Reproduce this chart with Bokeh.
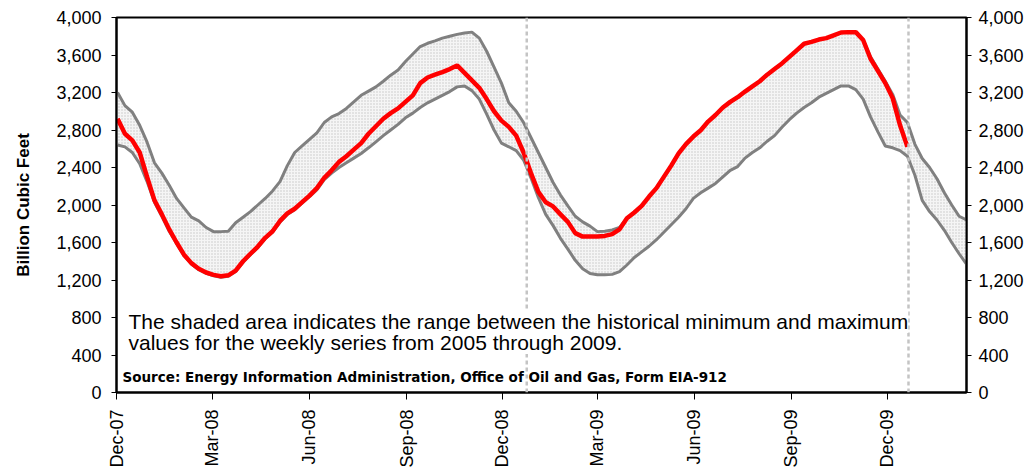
import pandas as pd
from bokeh.plotting import figure
from bokeh.models import (LinearAxis, FixedTicker, DatetimeTickFormatter,
                          NumeralTickFormatter, Span, Label, Range1d)
from bokeh.embed import file_html
from bokeh.resources import INLINE

# ---------------- data ----------------
first_week = "2007-12-02"          # weekly series start
x_start, x_end = "2007-12-01", "2010-02-14"

hist_max = [3200, 3060, 2990, 2850, 2670, 2450, 2340, 2210, 2070, 1970,
            1870, 1830, 1760, 1716, 1716, 1720, 1810, 1870, 1929, 2000,
            2070, 2150, 2250, 2420, 2560, 2630, 2700, 2770, 2880, 2940,
            2975, 3030, 3100, 3170, 3215, 3260, 3320, 3385, 3440, 3530,
            3610, 3690, 3725, 3750, 3780, 3800, 3820, 3835, 3844, 3780,
            3640, 3470, 3300, 3090, 3000, 2880, 2720, 2560, 2400, 2240,
            2106, 1990, 1880, 1820, 1775, 1716, 1720, 1734, 1760, 1858,
            1920, 1990, 2090, 2180, 2300, 2420, 2550, 2650, 2730, 2798,
            2890, 2960, 3040, 3100, 3150, 3210, 3265, 3320, 3390, 3450,
            3510, 3580, 3650, 3720, 3740, 3765, 3780, 3810, 3840, 3844,
            3844, 3760, 3580, 3450, 3320, 3180, 2960, 2880, 2650, 2496,
            2400, 2280, 2130, 2000, 1880, 1840]

hist_min = [2640, 2620, 2560, 2440, 2250, 2030, 1880, 1720, 1590, 1460,
            1370, 1310, 1270, 1245, 1230, 1240, 1290, 1390, 1470, 1545,
            1640, 1710, 1815, 1900, 1950, 2020, 2090, 2160, 2270, 2340,
            2400, 2450, 2500, 2550, 2610, 2674, 2740, 2800, 2860, 2930,
            2980, 3040, 3090, 3130, 3170, 3210, 3260, 3270, 3220, 3130,
            2970, 2800, 2660, 2621, 2580, 2480, 2290, 2080, 1900, 1780,
            1645, 1530, 1410, 1320, 1270, 1255, 1255, 1260, 1290, 1360,
            1440, 1500, 1560, 1630, 1710, 1790, 1870, 1960, 2071, 2130,
            2180, 2230, 2300, 2370, 2410, 2500, 2560, 2610, 2680, 2740,
            2830, 2910, 2980, 3040, 3090, 3150, 3190, 3230, 3270, 3270,
            3230, 3130, 2940, 2780, 2630, 2610, 2580, 2520, 2320, 2050,
            1930, 1840, 1730, 1600, 1480, 1370]

storage = [2920, 2760, 2690, 2560, 2300, 2050, 1900, 1740, 1600, 1470,
           1380, 1320, 1280, 1255, 1240, 1250, 1300, 1400, 1480, 1557,
           1650, 1720, 1830, 1910, 1960, 2030, 2100, 2180, 2290, 2370,
           2460, 2520, 2590, 2660, 2760, 2840, 2920, 2980, 3030, 3100,
           3170, 3300, 3360, 3390, 3418, 3450, 3489, 3410, 3330, 3250,
           3130, 3000, 2900, 2833, 2740, 2560, 2340, 2140, 2030, 1985,
           1900, 1820, 1700, 1663, 1663, 1663, 1670, 1690, 1740, 1858,
           1920, 1990, 2090, 2180, 2300, 2420, 2550, 2650, 2730, 2798,
           2890, 2960, 3040, 3100, 3150, 3210, 3265, 3320, 3390, 3450,
           3510, 3580, 3650, 3720, 3740, 3765, 3780, 3810, 3840, 3844,
           3844, 3760, 3560, 3430, 3300, 3140, 2850, 2620]

tick_dates = ["2007-12-01", "2008-03-01", "2008-06-01", "2008-09-01",
              "2008-12-01", "2009-03-01", "2009-06-01", "2009-09-01",
              "2009-12-01"]
tick_labels = ["Dec-07", "Mar-08", "Jun-08", "Sep-08", "Dec-08",
               "Mar-09", "Jun-09", "Sep-09", "Dec-09"]
marker_dates = ["2008-12-24", "2009-12-21"]
y_ticks = [0, 400, 800, 1200, 1600, 2000, 2400, 2800, 3200, 3600, 4000]

axis_title = "Billion Cubic Feet"
note_lines = ["The shaded area indicates the range between the historical minimum and maximum",
              "values for the weekly series from 2005 through 2009."]
source_note = "Source:  Energy Information Administration, Office of Oil and Gas, Form EIA-912"

# ---------------- build ----------------
band_dates = pd.date_range(first_week, periods=len(hist_max), freq="7D")
red_dates = band_dates[:len(storage)]

def ms(d):
    return pd.Timestamp(d).value // 10**6

FONT = "Liberation Sans"

p = figure(width=1030, height=470, x_axis_type="datetime",
           x_range=Range1d(ms(x_start), ms(x_end)), y_range=Range1d(0, 4000),
           output_backend="svg", toolbar_location=None,
           min_border_left=116, min_border_right=64,
           min_border_top=17, min_border_bottom=77)
p.background_fill_color = "white"
p.border_fill_color = "white"
p.outline_line_color = "black"
p.outline_line_width = 2
p.xgrid.visible = False
p.ygrid.visible = False

p.varea(x=band_dates, y1=hist_min, y2=hist_max, fill_color="#f5f5f5",
        hatch_pattern="dot", hatch_color="#c4c4c4", hatch_scale=3, hatch_weight=1)
p.line(band_dates, hist_max, line_color="#808080", line_width=3)
p.line(band_dates, hist_min, line_color="#808080", line_width=3)

for d in marker_dates:
    p.add_layout(Span(location=ms(d), dimension="height", line_color="#c4c4c4",
                      line_width=2.5, line_dash="4 3"))

p.line(red_dates, storage, line_color="#ff0000", line_width=4.5)

# x axis
xa = p.xaxis[0]
tick_ms = [ms(d) for d in tick_dates]
xa.ticker = FixedTicker(ticks=tick_ms)
xa.formatter = DatetimeTickFormatter(days="%b-%y", months="%b-%y", years="%b-%y",
                                     hours="%b-%y", minutes="%b-%y")
xa.major_label_overrides = dict(zip(tick_ms, tick_labels))
xa.major_label_orientation = 1.5708
xa.major_label_standoff = 10
xa.major_tick_out = 7
xa.major_tick_in = 0
xa.minor_tick_out = 0
xa.minor_tick_in = 0
xa.axis_line_width = 2
xa.axis_line_color = "black"
xa.major_label_text_font = FONT
xa.major_label_text_font_size = "18px"
xa.major_label_text_color = "black"

# left axis
ya = p.yaxis[0]
ya.ticker = FixedTicker(ticks=y_ticks)
ya.formatter = NumeralTickFormatter(format="0,0")
ya.axis_label = axis_title
ya.axis_label_text_font = FONT
ya.axis_label_text_font_style = "bold"
ya.axis_label_text_font_size = "17px"
ya.axis_label_text_color = "black"
ya.axis_label_standoff = 20
ya.major_label_standoff = 10
ya.major_tick_out = 5
ya.major_tick_in = 0
ya.minor_tick_out = 0
ya.minor_tick_in = 0
ya.axis_line_width = 2
ya.major_label_text_font = FONT
ya.major_label_text_font_size = "18px"
ya.major_label_text_color = "black"

# right axis
ra = LinearAxis(ticker=FixedTicker(ticks=y_ticks),
                formatter=NumeralTickFormatter(format="0,0"))
ra.major_label_standoff = 7
ra.major_tick_out = 5
ra.major_tick_in = 0
ra.minor_tick_out = 0
ra.minor_tick_in = 0
ra.axis_line_width = 2
ra.major_label_text_font = FONT
ra.major_label_text_font_size = "18px"
ra.major_label_text_color = "black"
p.add_layout(ra, "right")

# notes
for txt, yy in zip(note_lines, [71, 50]):
    p.add_layout(Label(x=12, y=yy, x_units="screen", y_units="screen", text=txt,
                       text_font=FONT, text_font_size="21px", text_color="black",
                       text_baseline="alphabetic",
                       background_fill_color="white", background_fill_alpha=1))
p.add_layout(Label(x=6, y=16, x_units="screen", y_units="screen", text=source_note,
                   text_font="DejaVu Sans", text_font_style="bold",
                   text_font_size="13.5px", text_color="black",
                   text_baseline="alphabetic"))

open("out.html", "w").write(file_html(p, INLINE))
